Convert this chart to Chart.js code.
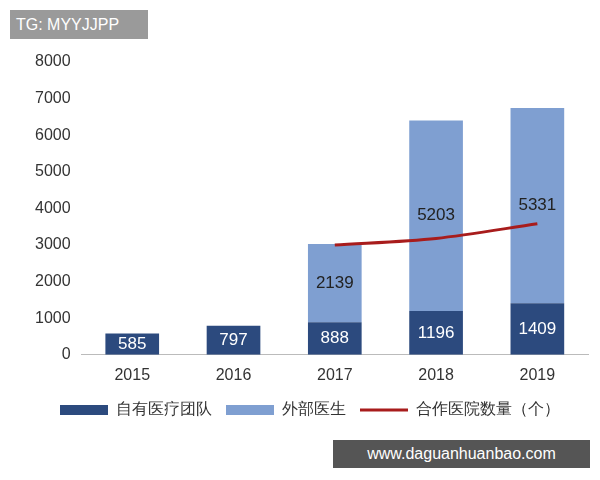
<!DOCTYPE html>
<html><head><meta charset="utf-8">
<script src="https://cdn.jsdelivr.net/npm/chart.js@4"></script>
<style>
body{margin:0;background:#fff;font-family:"Noto Sans CJK SC","DejaVu Sans",sans-serif}
#wrap{position:relative;width:600px;height:480px}
#tg{position:absolute;left:10px;top:10px;width:138px;height:29px;background:#9a9a9a;color:#fff;font:16px "Liberation Sans",sans-serif;line-height:29px;padding-left:6px;box-sizing:border-box}
#url{position:absolute;left:333px;top:440px;width:257px;height:28px;background:#555;color:#fff;font:16px "Liberation Sans",sans-serif;line-height:28px;text-align:center}
</style></head><body>
<div id="wrap"><canvas id="c" width="600" height="480"></canvas>
<div id="tg">TG: MYYJJPP</div><div id="url">www.daguanhuanbao.com</div></div>
<script>
const years = ["2015","2016","2017","2018","2019"]
const ownTeam = [585, 797, 888, 1196, 1409]
const outside = [null, null, 2139, 5203, 5331]
const hospitals = [null, null, 3000, 3180, 3580]

const labelPlugin = {
  id: "labels",
  afterDatasetsDraw(chart) {
    const ctx = chart.ctx
    ctx.save()
    ctx.font = "17px 'Liberation Sans', sans-serif"
    ctx.textAlign = "center"
    ctx.textBaseline = "middle"
    ;[0, 1].forEach((i) => {
      chart.getDatasetMeta(i).data.forEach((bar, j) => {
        const v = chart.data.datasets[i].data[j]
        if (v == null) return
        ctx.fillStyle = i == 0 ? "#fff" : "#222"
        ctx.fillText(v, bar.x, (bar.y + bar.base) / 2)
      })
    })
    ctx.restore()
  }
}

new Chart(document.getElementById("c"), {
  data: {
    labels: years,
    datasets: [
      { type: "bar", label: "自有医疗团队", data: ownTeam, backgroundColor: "#2c4a7e", stack: "s", barPercentage: 0.53, categoryPercentage: 1, order: 2, pointStyle: "rect" },
      { type: "bar", label: "外部医生", data: outside, backgroundColor: "#7f9fd1", stack: "s", barPercentage: 0.53, categoryPercentage: 1, order: 2, pointStyle: "rect" },
      { type: "line", label: "合作医院数量（个）", data: hospitals, borderColor: "#a81c1c", backgroundColor: "#a81c1c", borderWidth: 3, pointRadius: 0, tension: 0.3, order: 1, pointStyle: "line" }
    ]
  },
  options: {
    responsive: false, animation: false,
    layout: { padding: { left: 32, right: 12, top: 62, bottom: 52 } },
    scales: {
      x: { stacked: true, grid: { display: false }, border: { color: "#bbb" }, ticks: { color: "#333", font: { size: 16, family: "Liberation Sans" } } },
      y: { stacked: true, min: 0, max: 8000, grid: { display: false }, border: { display: false }, ticks: { stepSize: 1000, color: "#333", font: { size: 16, family: "Liberation Sans" }, callback: (v) => v } }
    },
    plugins: {
      legend: { position: "bottom", labels: { color: "#333", font: { size: 16 }, usePointStyle: true, pointStyleWidth: 48, boxHeight: 10, padding: 14, sort: (a, b) => a.datasetIndex - b.datasetIndex } },
      tooltip: { enabled: false }
    }
  },
  plugins: [labelPlugin]
})
</script></body></html>
